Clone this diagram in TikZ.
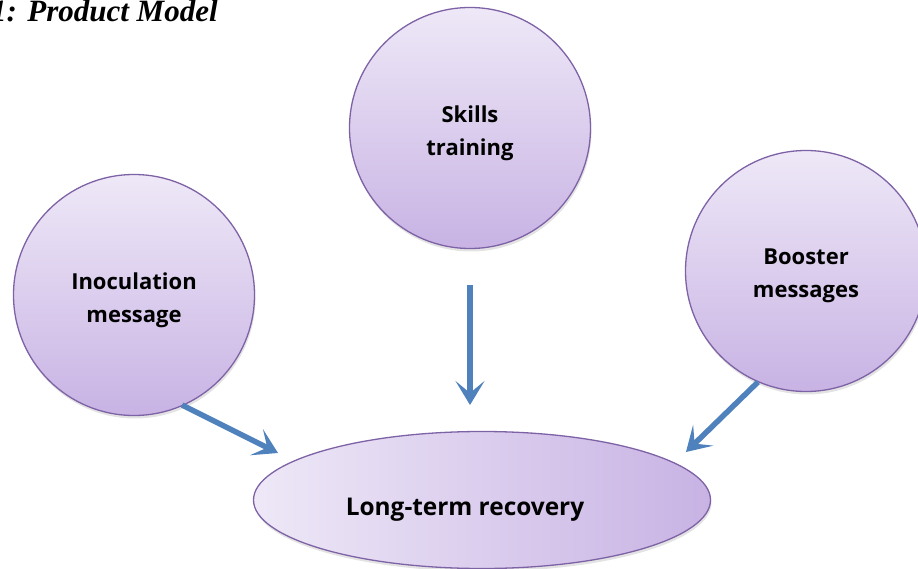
\documentclass[tikz,border=0pt]{standalone}
\usepackage{fontspec}
\setmainfont{Open Sans}
\newfontfamily\titlefont{Liberation Serif}
\usetikzlibrary{arrows.meta,shadows,shapes.geometric}
\definecolor{bubtop}{HTML}{EEE8F7}
\definecolor{bubbot}{HTML}{C8B3E4}
\definecolor{bubline}{HTML}{7E62A6}
\definecolor{arrblue}{HTML}{4F81BD}
\tikzset{
  bubble/.style={circle, draw=bubline, line width=1.3pt, minimum size=241pt,
    top color=bubtop, bottom color=bubbot, inner sep=0pt,
    drop shadow={opacity=0.22, shadow xshift=1pt, shadow yshift=-3pt}},
  outcome/.style={ellipse, draw=bubline, line width=1.3pt, minimum width=457pt, minimum height=137pt,
    left color=bubtop, right color=bubbot, inner sep=0pt,
    drop shadow={opacity=0.22, shadow xshift=1pt, shadow yshift=-3pt}},
  bubtext/.style={align=center, inner sep=0pt, font=\fontsize{22}{33}\selectfont\bfseries},
  outtext/.style={inner sep=0pt, font=\fontsize{24.4}{28}\selectfont\bfseries},
  flow/.style={draw=arrblue, line width=5.5pt, -{Stealth[length=24pt,width=29pt,inset=12pt]}},
  caption/.style={font=\titlefont\fontsize{31}{34}\selectfont\bfseries\itshape, inner sep=0pt, anchor=base west}
}
\begin{document}
\begin{tikzpicture}[x=1pt,y=-1pt]
\useasboundingbox (0,0) rectangle (918,569);
\clip (0,0) rectangle (918,569);
\node[caption] (title) at (-9,22) {1: Product Model};
\node[bubble] (skills) at (470,128) {};
\node[bubble] (inoc) at (134,295) {};
\node[bubble] (boost) at (806,271) {};
\node[outcome] (ltr) at (482,500) {};
\node[bubtext] (skillst) at ([yshift=-5pt]skills.center) {Skills\\training};
\node[bubtext] (inoct) at ([yshift=-5pt]inoc.center) {Inoculation\\message};
\node[bubtext] (boostt) at ([yshift=-5pt]boost.center) {Booster\\messages};
\node[outtext] (ltrt) at ([xshift=-17pt,yshift=-10pt]ltr.center) {Long-term recovery};
\coordinate (a1s) at (182,405);
\coordinate (a1e) at (278,453);
\coordinate (a2s) at (470,285);
\coordinate (a2e) at (470,405);
\coordinate (a3s) at (758,382);
\coordinate (a3e) at (686,452);
\draw[flow] (a1s) -- (a1e);
\draw[flow] (a2s) -- (a2e);
\draw[flow] (a3s) -- (a3e);
\end{tikzpicture}
\end{document}
